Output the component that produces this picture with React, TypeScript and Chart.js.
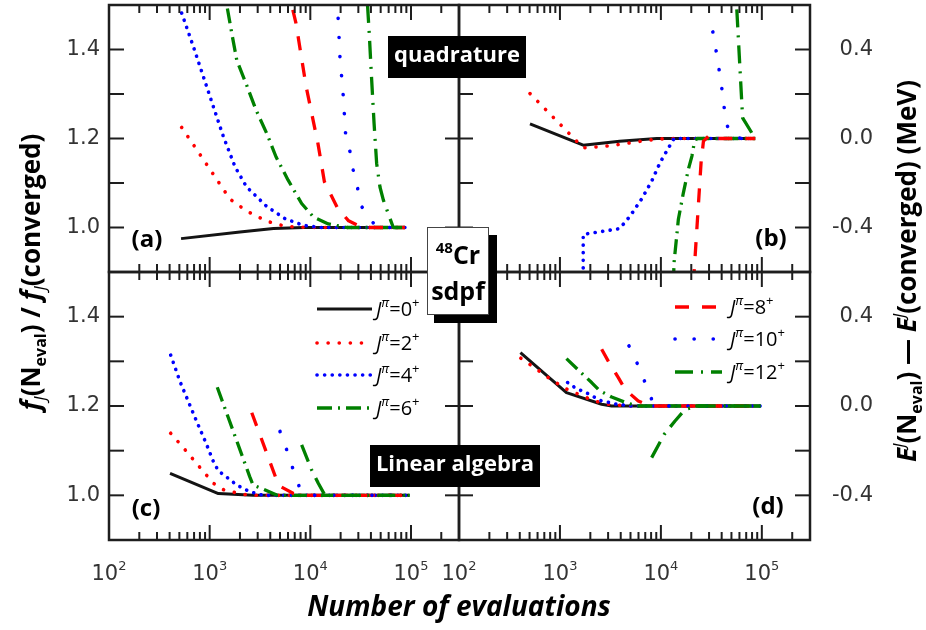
import React, { useEffect, useRef } from "react";
import { Chart, registerables } from "chart.js";

Chart.register(...registerables);

// ---------------- data ----------------
const xRange = [100, 300000];
const ratioRange = [0.9, 1.5];
const energyRange = [-0.6, 0.6];
const xMajorTicks = [100, 1000, 10000, 100000];
const xTickExponents = ["2", "3", "4", "5"];
const ratioTickValues = [1.0, 1.2, 1.4];
const ratioTickLabels = ["1.0", "1.2", "1.4"];
const energyTickValues = [-0.4, 0.0, 0.4];
const energyTickLabels = ["-0.4", "0.0", "0.4"];
const spinLabels = ["0", "2", "4", "6", "8", "10", "12"];

// (a) quadrature, f ratio
const quadRatioJ0 = [[520, 0.975], [2000, 0.99], [4300, 0.998], [8600, 1.0], [87000, 1.0]];
const quadRatioJ2 = [[527, 1.225], [920, 1.144], [1590, 1.064], [2330, 1.037], [3700, 1.014], [5800, 1.002], [10000, 1.0], [87000, 1.0]];
const quadRatioJ4 = [[527, 1.482], [690, 1.406], [866, 1.339], [1090, 1.271], [1370, 1.204], [1790, 1.136], [2330, 1.091], [3700, 1.047], [5600, 1.02], [8500, 1.005], [12500, 1.0], [87000, 1.0]];
const quadRatioJ6 = [[1500, 1.492], [1660, 1.436], [1860, 1.376], [2330, 1.32], [2890, 1.264], [3700, 1.211], [4560, 1.159], [6000, 1.107], [8200, 1.054], [10700, 1.024], [15100, 1.008], [23000, 1.0], [87000, 1.0]];
const quadRatioJ8 = [[6700, 1.489], [7200, 1.459], [9100, 1.316], [11900, 1.189], [13800, 1.103], [18700, 1.043], [24000, 1.015], [33000, 1.0], [87000, 1.0]];
const quadRatioJ10 = [[18900, 1.47], [19700, 1.384], [21200, 1.298], [22400, 1.211], [24800, 1.17], [26700, 1.129], [29500, 1.088], [32400, 1.047], [40700, 1.015], [45600, 1.0], [87000, 1.0]];
const quadRatioJ12 = [[37000, 1.5], [38500, 1.436], [40700, 1.331], [43000, 1.234], [45600, 1.144], [49200, 1.091], [53100, 1.062], [66700, 1.0], [87000, 1.0]];

// (b) quadrature, energy difference
const quadEnergyJ0 = [[505, 0.066], [1700, -0.03], [3900, -0.012], [9100, 0.0], [86000, 0.0]];
const quadEnergyJ2 = [[505, 0.202], [1700, -0.042], [2800, -0.035], [4600, -0.022], [7250, -0.008], [11400, 0.0], [86000, 0.0]];
const quadEnergyJ4 = [[1700, -0.65], [1700, -0.431], [2500, -0.419], [3900, -0.405], [4950, -0.349], [6460, -0.271], [8100, -0.192], [9800, -0.109], [11900, -0.042], [13500, 0.0], [86000, 0.0]];
const quadEnergyJ6 = [[13300, -0.65], [13500, -0.558], [14900, -0.363], [16700, -0.244], [18700, -0.139], [20300, -0.079], [21400, -0.019], [22700, 0.0], [86000, 0.0]];
const quadEnergyJ8 = [[21000, -0.65], [25000, -0.109], [26400, -0.012], [30800, 0.018], [33000, 0.0], [86000, 0.0]];
const quadEnergyJ10 = [[32700, 0.479], [35300, 0.392], [37800, 0.306], [40200, 0.223], [42400, 0.138], [45700, 0.055], [52500, 0.003], [86000, 0.0]];
const quadEnergyJ12 = [[56500, 0.58], [64500, 0.093], [86000, 0.0]];

// (c) linear algebra, f ratio
const linRatioJ0 = [[404, 1.049], [1220, 1.004], [2700, 1.0], [97000, 1.0]];
const linRatioJ2 = [[410, 1.139], [570, 1.102], [790, 1.064], [1090, 1.027], [1390, 1.012], [2160, 1.002], [2930, 1.0], [97000, 1.0]];
const linRatioJ4 = [[410, 1.314], [507, 1.255], [614, 1.21], [744, 1.165], [920, 1.117], [1087, 1.076], [1218, 1.055], [1530, 1.038], [1860, 1.023], [2520, 1.008], [3400, 1.0], [97000, 1.0]];
const linRatioJ6 = [[1190, 1.242], [2500, 1.042], [2700, 1.023], [3400, 1.014], [4700, 1.0], [97000, 1.0]];
const linRatioJ8 = [[2620, 1.185], [4850, 1.022], [6800, 1.004], [9500, 1.0], [97000, 1.0]];
const linRatioJ10 = [[5000, 1.143], [5820, 1.102], [6680, 1.061], [7770, 1.019], [10700, 1.0], [97000, 1.0]];
const linRatioJ12 = [[8200, 1.113], [10300, 1.057], [12000, 1.027], [14000, 1.0], [97000, 1.0]];

// (d) linear algebra, energy difference
const linEnergyJ0 = [[406, 0.239], [1160, 0.06], [2590, 0.008], [3250, 0.0], [97000, 0.0]];
const linEnergyJ2 = [[410, 0.214], [500, 0.187], [750, 0.13], [1120, 0.079], [1400, 0.06], [1770, 0.04], [2220, 0.022], [3000, 0.008], [4750, 0.0], [97000, 0.0]];
const linEnergyJ4 = [[1190, 0.105], [1380, 0.085], [1610, 0.07], [1880, 0.056], [2190, 0.04], [2550, 0.024], [3000, 0.017], [3500, 0.009], [4100, 0.006], [4950, 0.0], [97000, 0.0]];
const linEnergyJ6 = [[1160, 0.212], [1570, 0.155], [2060, 0.105], [2450, 0.07], [3250, 0.04], [4400, 0.017], [5750, 0.0], [97000, 0.0]];
const linEnergyJ8 = [[2590, 0.254], [3000, 0.202], [3790, 0.127], [4410, 0.075], [5970, 0.022], [7800, 0.0], [97000, 0.0]];
const linEnergyJ10 = [[4830, 0.269], [5820, 0.191], [6890, 0.111], [8080, 0.031], [12000, 0.0], [97000, 0.0]];
const linEnergyJ12 = [[8100, -0.231], [10800, -0.127], [13800, -0.067], [17400, -0.015], [20300, -0.007], [23000, 0.0], [97000, 0.0]];

// ---------------- styles ----------------
const INK = "#1e1e1e";
const LABEL = "#333333";
const FONT = '"Open Sans", "DejaVu Sans", sans-serif';
const TICKFONT = '"DejaVu Sans", sans-serif';

type LineStyle = { color: string; width: number; dash: number[]; cap: CanvasLineCap };
const STYLES: LineStyle[] = [
  { color: "#141414", width: 3, dash: [], cap: "butt" },
  { color: "#ff0000", width: 3.6, dash: [0.1, 11], cap: "round" },
  { color: "#0000ff", width: 3.6, dash: [0.1, 7.5], cap: "round" },
  { color: "#008000", width: 3.3, dash: [15, 6, 2, 6], cap: "butt" },
  { color: "#ff0000", width: 3.3, dash: [14, 13], cap: "butt" },
  { color: "#0000ff", width: 3.6, dash: [0.1, 19], cap: "round" },
  { color: "#008000", width: 3.3, dash: [18, 8, 2, 8], cap: "butt" },
];

type Seg = { t: string; f: string; dy?: number };

function richWidth(ctx: CanvasRenderingContext2D, segs: Seg[]) {
  let w = 0;
  for (const s of segs) {
    ctx.font = s.f;
    w += ctx.measureText(s.t).width;
  }
  return w;
}

function drawRich(ctx: CanvasRenderingContext2D, segs: Seg[], x: number, y: number, align: "left" | "center" | "right") {
  const w = richWidth(ctx, segs);
  let cx = align === "left" ? x : align === "center" ? x - w / 2 : x - w;
  ctx.textAlign = "left";
  for (const s of segs) {
    ctx.font = s.f;
    ctx.fillText(s.t, cx, y + (s.dy || 0));
    cx += ctx.measureText(s.t).width;
  }
}

function seg(ctx: CanvasRenderingContext2D, x1: number, y1: number, x2: number, y2: number) {
  ctx.beginPath();
  ctx.moveTo(x1, y1);
  ctx.lineTo(x2, y2);
  ctx.stroke();
}

function legendSample(ctx: CanvasRenderingContext2D, st: LineStyle, x1: number, x2: number, y: number) {
  ctx.save();
  ctx.strokeStyle = st.color;
  ctx.lineWidth = st.width;
  ctx.setLineDash(st.dash);
  ctx.lineCap = st.cap;
  seg(ctx, x1, y, x2, y);
  ctx.restore();
}

function spinText(j: string): Seg[] {
  return [
    { t: "J", f: `italic 20px ${FONT}` },
    { t: "\u03c0", f: `italic 13px ${FONT}`, dy: -9 },
    { t: "=" + j, f: `20px ${FONT}` },
    { t: "+", f: `13px ${FONT}`, dy: -9 },
  ];
}

type Panel = {
  id: string;
  area: { l: number; t: number; r: number; b: number };
  kind: "ratio" | "energy";
  series: number[][][];
  xLabels: boolean;
  tag: { x: number; y: number };
};

const PANELS: Panel[] = [
  { id: "a", area: { l: 109, t: 5, r: 459, b: 272 }, kind: "ratio", series: [quadRatioJ0, quadRatioJ2, quadRatioJ4, quadRatioJ6, quadRatioJ8, quadRatioJ10, quadRatioJ12], xLabels: false, tag: { x: 147, y: 240 } },
  { id: "b", area: { l: 459, t: 5, r: 810, b: 272 }, kind: "energy", series: [quadEnergyJ0, quadEnergyJ2, quadEnergyJ4, quadEnergyJ6, quadEnergyJ8, quadEnergyJ10, quadEnergyJ12], xLabels: false, tag: { x: 771, y: 239 } },
  { id: "c", area: { l: 109, t: 272, r: 459, b: 540 }, kind: "ratio", series: [linRatioJ0, linRatioJ2, linRatioJ4, linRatioJ6, linRatioJ8, linRatioJ10, linRatioJ12], xLabels: true, tag: { x: 146, y: 509 } },
  { id: "d", area: { l: 459, t: 272, r: 810, b: 540 }, kind: "energy", series: [linEnergyJ0, linEnergyJ2, linEnergyJ4, linEnergyJ6, linEnergyJ8, linEnergyJ10, linEnergyJ12], xLabels: true, tag: { x: 768, y: 507 } },
];

function panelPlugin(p: Panel, overlay: boolean) {
  return {
    id: "panel_" + p.id,
    afterDraw(chart: any) {
      const ctx: CanvasRenderingContext2D = chart.ctx;
      const xs = chart.scales.x;
      const ys = chart.scales.y;
      const { left, right, top, bottom } = chart.chartArea;
      ctx.save();
      ctx.strokeStyle = INK;
      ctx.lineWidth = 2;
      ctx.setLineDash([]);
      // x ticks (inward, top and bottom)
      for (let d = 2; d <= 5; d++) {
        for (let k = 1; k <= 9; k++) {
          const v = k * Math.pow(10, d);
          if (v > xRange[1]) break;
          const px = xs.getPixelForValue(v);
          const len = k === 1 ? 15 : 8;
          seg(ctx, px, bottom, px, bottom - len);
          seg(ctx, px, top, px, top + len);
        }
      }
      // y ticks
      if (p.kind === "ratio") {
        for (const v of [1.0, 1.1, 1.2, 1.3, 1.4]) {
          const py = ys.getPixelForValue(v);
          seg(ctx, left, py, left + 15, py);
        }
        for (const v of ratioTickValues) {
          const py = ys.getPixelForValue(v);
          seg(ctx, right, py, right - 14, py);
        }
      } else {
        for (const v of [-0.4, -0.2, 0.0, 0.2, 0.4]) {
          const py = ys.getPixelForValue(v);
          seg(ctx, right, py, right - 15, py);
          seg(ctx, left, py, left + 14, py);
        }
      }
      // frame
      ctx.lineWidth = 2.5;
      ctx.strokeRect(left, top, right - left, bottom - top);

      // tick labels
      ctx.fillStyle = LABEL;
      ctx.textBaseline = "middle";
      ctx.font = `21px ${TICKFONT}`;
      if (p.kind === "ratio") {
        ctx.textAlign = "right";
        ratioTickValues.forEach((v, i) => ctx.fillText(ratioTickLabels[i], left - 9, ys.getPixelForValue(v)));
      } else {
        ctx.textAlign = "right";
        energyTickValues.forEach((v, i) => ctx.fillText(energyTickLabels[i], 873, ys.getPixelForValue(v)));
      }
      if (p.xLabels) {
        ctx.textBaseline = "alphabetic";
        xMajorTicks.forEach((v, i) => {
          drawRich(ctx, [
            { t: "10", f: `21px ${TICKFONT}` },
            { t: xTickExponents[i], f: `13px ${TICKFONT}`, dy: -10 },
          ], xs.getPixelForValue(v), 580, "center");
        });
      }

      // panel tag
      ctx.fillStyle = "#000";
      ctx.textBaseline = "middle";
      ctx.textAlign = "center";
      ctx.font = `bold 24px ${FONT}`;
      ctx.fillText(`(${p.id})`, p.tag.x, p.tag.y);

      // legends
      ctx.textBaseline = "alphabetic";
      if (p.id === "c") {
        const ys4 = [309, 343, 375, 408];
        for (let i = 0; i < 4; i++) {
          legendSample(ctx, STYLES[i], 317, 372, ys4[i]);
          ctx.fillStyle = "#000";
          drawRich(ctx, spinText(spinLabels[i]), 376, ys4[i] + 7, "left");
        }
      }
      if (p.id === "d") {
        const ys3 = [307, 339, 372];
        for (let i = 0; i < 3; i++) {
          legendSample(ctx, STYLES[i + 4], 675, 722, ys3[i]);
          ctx.fillStyle = "#000";
          drawRich(ctx, spinText(spinLabels[i + 4]), 730, ys3[i] + 7, "left");
        }
      }

      if (overlay) drawOverlay(ctx);
      ctx.restore();
    },
  };
}

function drawOverlay(ctx: CanvasRenderingContext2D) {
  ctx.save();
  // method boxes
  ctx.fillStyle = "#000";
  ctx.fillRect(388, 36, 138, 42);
  ctx.fillRect(370, 445, 170, 42);
  ctx.fillStyle = "#fff";
  ctx.textAlign = "center";
  ctx.textBaseline = "middle";
  ctx.font = `bold 22px ${FONT}`;
  ctx.fillText("quadrature", 457, 56);
  ctx.fillText("Linear algebra", 455, 465);

  // nucleus box
  ctx.fillStyle = "#000";
  ctx.fillRect(434, 235, 63, 88);
  ctx.fillStyle = "#fff";
  ctx.fillRect(427, 227, 62, 88);
  ctx.strokeStyle = "#444";
  ctx.lineWidth = 1;
  ctx.strokeRect(427.5, 227.5, 61, 87);
  ctx.fillStyle = "#000";
  ctx.textBaseline = "alphabetic";
  drawRich(ctx, [
    { t: "48", f: `bold 15px ${FONT}`, dy: -11 },
    { t: "Cr", f: `bold 25px ${FONT}` },
  ], 458, 264, "center");
  ctx.font = `bold 25px ${FONT}`;
  ctx.textAlign = "center";
  ctx.fillText("sdpf", 458, 300);

  // x title
  ctx.font = `italic bold 28px ${FONT}`;
  ctx.textAlign = "center";
  ctx.fillText("Number of evaluations", 459, 616);

  // left title
  const B = `bold 26px ${FONT}`;
  const BI = `italic bold 26px ${FONT}`;
  const SI = `italic 16px ${FONT}`;
  const SB = `bold 16px ${FONT}`;
  ctx.save();
  ctx.translate(40, 272);
  ctx.rotate(-Math.PI / 2);
  drawRich(ctx, [
    { t: "f", f: BI },
    { t: "J", f: SI, dy: 6 },
    { t: "(", f: B },
    { t: "N", f: B },
    { t: "eval", f: SB, dy: 6 },
    { t: ") / ", f: B },
    { t: "f", f: BI },
    { t: "J", f: SI, dy: 6 },
    { t: "(converged)", f: B },
  ], 0, 0, "center");
  ctx.restore();

  // right title
  ctx.save();
  ctx.translate(916, 271);
  ctx.rotate(-Math.PI / 2);
  drawRich(ctx, [
    { t: "E", f: BI },
    { t: "J", f: SI, dy: -11 },
    { t: "(", f: B },
    { t: "N", f: B },
    { t: "eval", f: SB, dy: 6 },
    { t: ") \u2014 ", f: B },
    { t: "E", f: BI },
    { t: "J", f: SI, dy: -11 },
    { t: "(converged) (MeV)", f: B },
  ], 0, 0, "center");
  ctx.restore();
  ctx.restore();
}

function makeConfig(p: Panel, overlay: boolean): any {
  const yr = p.kind === "ratio" ? ratioRange : energyRange;
  return {
    type: "line",
    data: {
      datasets: p.series.map((pts, i) => ({
        label: "J=" + spinLabels[i],
        data: pts.map(([x, y]) => ({ x, y })),
        borderColor: STYLES[i].color,
        borderWidth: STYLES[i].width,
        borderDash: STYLES[i].dash,
        borderCapStyle: STYLES[i].cap,
        borderJoinStyle: "round",
        pointRadius: 0,
        tension: 0,
        fill: false,
        order: i === 0 ? 10 : 7 - i,
      })),
    },
    options: {
      responsive: false,
      animation: false,
      devicePixelRatio: 1,
      layout: {
        padding: { left: p.area.l, top: p.area.t, right: 926 - p.area.r, bottom: 630 - p.area.b },
      },
      scales: {
        x: { type: "logarithmic", min: xRange[0], max: xRange[1], display: false },
        y: { type: "linear", min: yr[0], max: yr[1], display: false },
      },
      plugins: { legend: { display: false }, tooltip: { enabled: false }, title: { display: false } },
      events: [],
    },
    plugins: [panelPlugin(p, overlay)],
  };
}

export default function App() {
  const r0 = useRef<HTMLCanvasElement>(null);
  const r1 = useRef<HTMLCanvasElement>(null);
  const r2 = useRef<HTMLCanvasElement>(null);
  const r3 = useRef<HTMLCanvasElement>(null);
  const refs = [r0, r1, r2, r3];
  useEffect(() => {
    const charts = PANELS.map((p, i) => new Chart(refs[i].current as HTMLCanvasElement, makeConfig(p, i === 3)));
    return () => charts.forEach((c) => c.destroy());
  }, []);
  return (
    <div style={{ position: "fixed", left: 0, top: 0, width: 926, height: 630, background: "#fff" }}>
      {refs.map((r, i) => (
        <canvas key={i} ref={r} width={926} height={630} style={{ position: "absolute", left: 0, top: 0, width: 926, height: 630 }} />
      ))}
    </div>
  );
}
